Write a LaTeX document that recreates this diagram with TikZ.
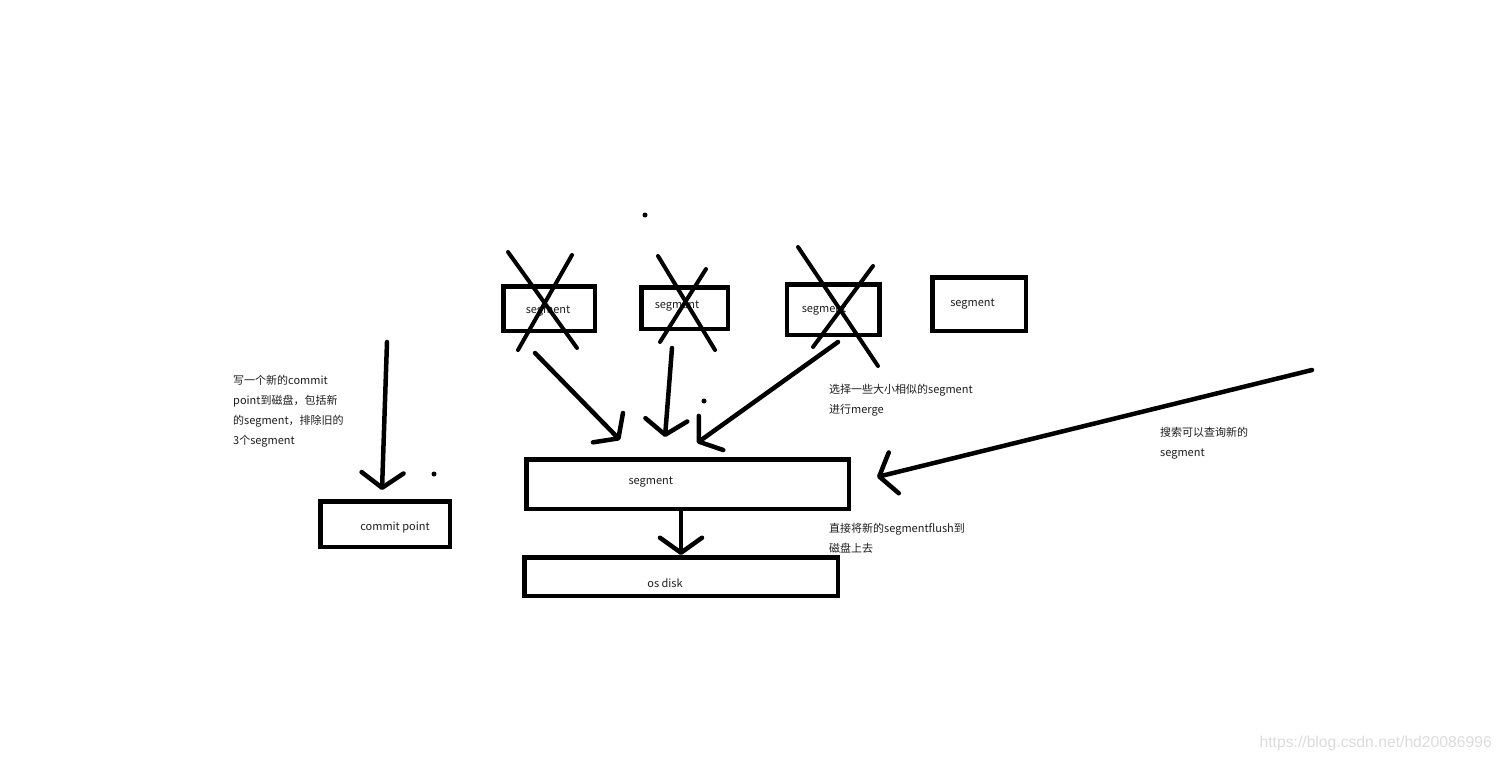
\documentclass[tikz,border=0pt]{standalone}
\usepackage{fontspec}
\setmainfont{Noto Sans CJK SC}
\newfontfamily\markfont{Liberation Sans}
\usetikzlibrary{arrows.meta, positioning}
\definecolor{inkline}{HTML}{000000}
\definecolor{inktext}{HTML}{1E1E1E}
\definecolor{markgray}{HTML}{DCDCDC}

\begin{document}
\begin{tikzpicture}[
  x=1pt, y=-1pt,
  font=\fontsize{11}{20}\selectfont,
  box/.style={rectangle, draw=inkline, line width=4.5pt, inner sep=0pt},
  lbl/.style={font=\fontsize{11}{20}\selectfont, text=inktext, inner sep=0pt},
  note/.style={lbl, align=left, anchor=north west},
  ar/.style={-{Straight Barb[length=15pt, width=42pt, round]}, draw=inkline,
             line width=4.5pt, line cap=round, line join=round},
  crossout/.style={draw=inkline, line width=4pt, line cap=round}
]
\useasboundingbox[fill=white] (0,0) rectangle (1503,762);

% old segments, three of them crossed out
\node[box, minimum width=91.5pt, minimum height=44.5pt,
      label={[lbl, shift={(-1pt,-2.5pt)}]center:segment}] (segA) at (549,308.5) {};
\node[box, minimum width=86.5pt, minimum height=41.5pt,
      label={[lbl, shift={(-7.5pt,2pt)}]center:segment}] (segB) at (684.5,308) {};
\node[box, minimum width=92.5pt, minimum height=50.5pt,
      label={[lbl, shift={(-9pt,-1pt)}]center:segment}] (segC) at (833,309.5) {};
\node[box, minimum width=93.5pt, minimum height=53.5pt,
      label={[lbl, shift={(-6.5pt,0pt)}]center:segment}] (segD) at (979,304) {};

\draw[crossout] (508,252) -- (577,348);
\draw[crossout] (572,255) -- (518,350);
\draw[crossout] (658,256) -- (715,350);
\draw[crossout] (706,269) -- (660,342);
\draw[crossout] (798,247) -- (878,366);
\draw[crossout] (873,266) -- (813,347);

% merged segment and the disk
\node[box, minimum width=322.5pt, minimum height=49.5pt,
      label={[lbl, shift={(-36.7pt,1.5pt)}]center:segment}] (segnew) at (687.5,484) {};
\node[box, minimum width=313.5pt, minimum height=38.5pt,
      label={[lbl, shift={(-16pt,-7pt)}]center:os disk}] (osdisk) at (681,576.5) {};
\node[box, minimum width=129.5pt, minimum height=45.5pt,
      label={[lbl, shift={(10pt,-3pt)}]center:commit point}] (commit) at (385,524) {};

\coordinate (fromA) at (535,353);
\coordinate (toA) at (620,440);
\coordinate (fromB) at (672,348);
\coordinate (toB) at (665,437);
\coordinate (fromC) at (838,342);
\coordinate (toC) at (697,443);
\coordinate (fromcommit) at (387,342);
\coordinate (tocommit) at (382,490);
\coordinate (fromsearch) at (1312,370);
\coordinate (tosearch) at (877,477);

\draw[ar] (fromA) -- (toA);
\draw[ar] (fromB) -- (toB);
\draw[ar] (fromC) -- (toC);
\draw[ar] (fromcommit) -- (tocommit);
\draw[ar] (fromsearch) -- (tosearch);
\draw[ar] (osdisk.north |- segnew.south) -- (osdisk.north);

\node[note] (notecommit) at (233,375)
  {写一个新的commit\\point到磁盘，包括新\\的segment，排除旧的\\3个segment};
\node[note] (notemerge) at (829,384) {选择一些大小相似的segment\\进行merge};
\node[note] (notesearch) at (1160,427) {搜索可以查询新的\\segment};
\node[note] (noteflush) at (829,523) {直接将新的segmentflush到\\磁盘上去};

\fill[inkline] (645,215) circle[radius=2.5pt];
\fill[inkline] (704,401) circle[radius=2.5pt];
\fill[inkline] (434,474) circle[radius=2.5pt];

\node[font=\markfont\fontsize{15.7}{16}\selectfont, text=markgray, anchor=east,
      inner sep=0pt] (mark) at (1492,743) {https://blog.csdn.net/hd20086996};
\end{tikzpicture}
\end{document}
